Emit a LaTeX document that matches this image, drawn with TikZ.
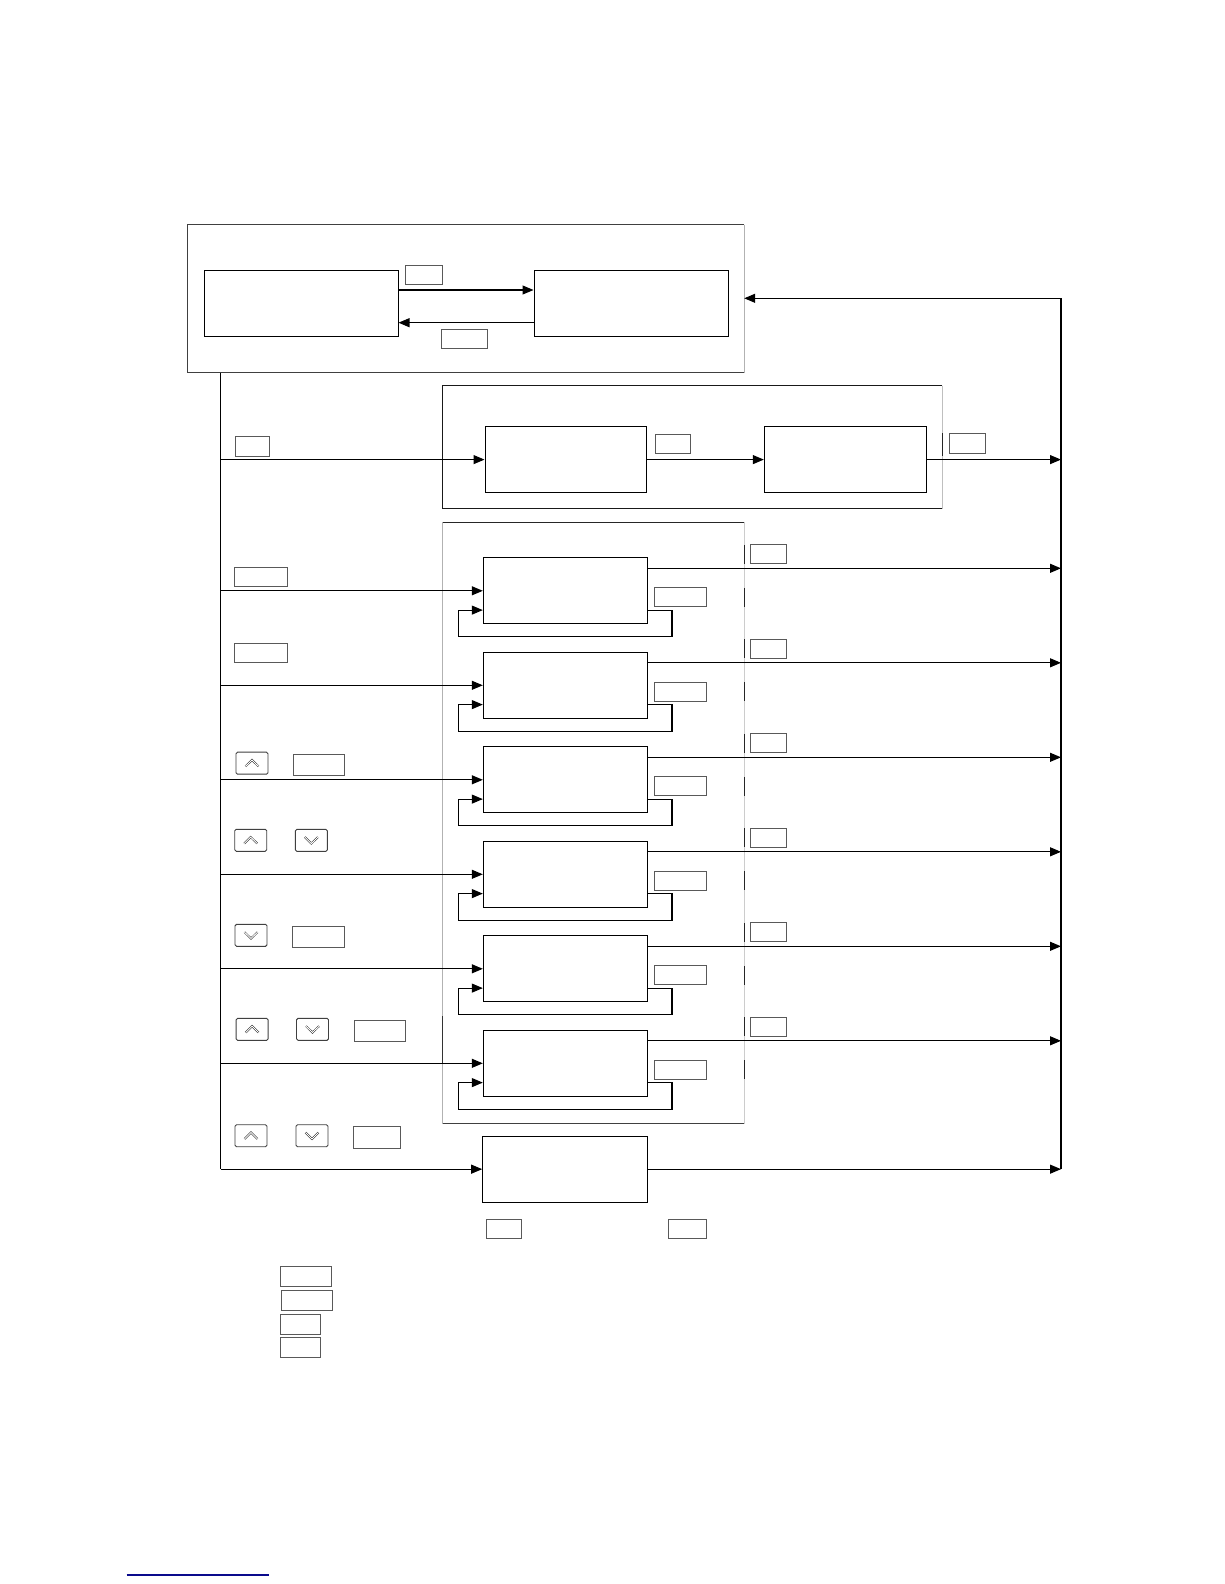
\documentclass[tikz,border=0pt]{standalone}
\usetikzlibrary{arrows.meta}
\begin{document}
\begin{tikzpicture}[x=1pt,y=-1pt,
  box/.style={draw=black, line width=1pt, inner sep=0pt},
  lbl/.style={draw=black!65, line width=1pt, inner sep=0pt, minimum width=35pt, minimum height=19pt},
  btn/.style={draw=black!75, line width=0.9pt, rounded corners=1.5pt, inner sep=0pt, minimum width=32pt, minimum height=22pt},
  ln/.style={line width=1.1pt, black},
  arr/.style={ln, -{Triangle[length=11pt,width=9pt]}},
  chev/.style={draw=black!85, double=white, double distance=0.9pt, line width=0.5pt, line join=miter},
]
\fill[white] (0,0) rectangle (1224,1584);
\useasboundingbox (0,0) rectangle (1224,1584);

% ---------- group A ----------
\node[inner sep=0pt, minimum width=556pt, minimum height=147.5pt] (a) at (466,298.75) {};
\draw[black!75, line width=1pt] (a.north east) -- (a.north west) -- (a.south west) -- (a.south east);
\draw[black!30, line width=1pt] (a.north east) -- (a.south east);
\node[box, minimum width=193.5pt, minimum height=65.6pt] (a1) at (301.25,303.5) {};
\node[box, minimum width=194.3pt, minimum height=65.6pt] (a2) at (631.15,303.5) {};
\draw[arr] (a1.east |- 0,290) -- (a2.west |- 0,290);
\draw[arr] (a2.west |- 0,322.7) -- (a1.east |- 0,322.7);
\node[lbl, minimum width=37pt] (la1) at (424,274.5) {};
\node[lbl, minimum width=46.6pt] (la2) at (464.3,338.5) {};

% ---------- buses ----------
\coordinate (bus) at (220.7,372.5);
\coordinate (rtop) at (1061,298.3);

% ---------- group B ----------
\node[inner sep=0pt, minimum width=499.9pt, minimum height=122.3pt] (bg) at (692.25,447.15) {};
\draw[black!90, line width=1pt] (bg.north east) -- (bg.north west) -- (bg.south west) -- (bg.south east);
\draw[black!25, line width=1pt] (bg.north east) -- (bg.south east);
\draw[black!85, line width=1pt] (bg.east |- 0,433) -- (bg.east |- 0,456);
\node[box, minimum width=161.3pt, minimum height=66.2pt] (b1) at (565.65,459.6) {};
\node[box, minimum width=161.7pt, minimum height=66.2pt] (b2) at (845.15,459.6) {};
\draw[arr] (bus |- b1.west) -- (b1.west);
\draw[arr] (b1.east) -- (b2.west);
\draw[arr] (b2.east) -- (rtop |- b2.east);
\node[lbl, minimum width=34.5pt, minimum height=20pt] (lb0) at (252.25,446.5) {};
\node[lbl] (lb1) at (673.1,443.5) {};
\node[lbl, minimum width=36pt, minimum height=20pt] (lb2) at (967.7,443.7) {};

% ---------- group C ----------
\node[inner sep=0pt, minimum width=301.7pt, minimum height=601pt] (cg) at (593.15,822.8) {};
\draw[black!85, line width=1pt] (cg.north west) -- (cg.north east);
\draw[black!75, line width=1pt] (cg.south west) -- (cg.south east);
\draw[black!30, line width=1pt] (cg.north west) -- (cg.south west);
\draw[black!20, line width=1pt] (cg.north east) -- (cg.south east);
\draw[black!80, line width=1pt] (cg.west |- 0,1016) -- (cg.west |- 0,1063);

\foreach \k in {0,...,5}{
  \pgfmathsetmacro\T{557.8+94.5*\k}
  \pgfmathsetmacro\Cy{\T+33}
  \pgfmathsetmacro\Fy{\T+52.3}
  \pgfmathsetmacro\By{\T+79}
  \pgfmathsetmacro\Oy{\T+10.5}
  \node[box, minimum width=163.7pt, minimum height=66pt] (c\k) at (565.15,\Cy) {};
  \draw[arr] (bus |- c\k.west) -- (c\k.west);
  \coordinate (fr\k) at (672,\Fy);
  \coordinate (br\k) at (672,\By);
  \coordinate (bl\k) at (458.7,\By);
  \coordinate (fl\k) at (458.7,\Fy);
  \draw[arr] (c\k.east |- fr\k) -- (fr\k) -- (br\k) -- (bl\k) -- (fl\k) -- (c\k.west |- fl\k);
  \coordinate (o\k) at (900,\Oy);
  \draw[arr] (c\k.east |- o\k) -- (rtop |- o\k);
  \node[lbl, minimum width=35.5pt] (ol\k) at (768.25,\T-3.5) {};
  \node[lbl, minimum width=51.5pt] (fb\k) at (680.25,\T+39.5) {};
  \draw[black!85, line width=1pt] (cg.east |- 0,\T-13) -- (cg.east |- 0,\T+6);
  \draw[black!85, line width=1pt] (cg.east |- 0,\T+30) -- (cg.east |- 0,\T+49);
}

% ---------- box D ----------
\node[box, minimum width=164.6pt, minimum height=66.3pt] (d) at (565,1169.15) {};
\draw[arr] (bus |- d.west) -- (d.west);
\draw[arr] (d.east) -- (rtop |- d.east);
\node[lbl, minimum width=34.3pt] (ld1) at (503.85,1228.5) {};
\node[lbl, minimum width=37.7pt] (ld2) at (687.15,1228.5) {};

% bus lines
\draw[ln] (bus) -- (bus |- d.west);
\draw[arr] (rtop |- d.east) -- (rtop) -- (a.east |- rtop);

% ---------- left labels and buttons ----------
\node[lbl, minimum width=52.3pt, minimum height=19.3pt] (l1) at (260.85,576.65) {};
\node[lbl, minimum width=52.3pt, minimum height=19.3pt] (l2) at (260.85,653.2) {};

\node[btn] (u3) at (252,763.15) {};
\node[lbl, minimum width=51pt, minimum height=21pt] (l3) at (318.8,764.5) {};

\node[btn] (u4) at (250.7,840.3) {};
\node[btn] (d4) at (311.35,840.3) {};

\node[btn] (d5) at (251,935.35) {};
\node[lbl, minimum width=52pt, minimum height=20.3pt] (l5) at (318,936.85) {};

\node[btn] (u6) at (252.15,1029.35) {};
\node[btn] (d6) at (312.5,1029.35) {};
\node[lbl, minimum width=51.4pt, minimum height=21.3pt] (l6) at (380,1030.65) {};

\node[btn] (u7) at (251,1135.7) {};
\node[btn] (d7) at (312,1135.7) {};
\node[lbl, minimum width=47.4pt, minimum height=22pt] (l7) at (377,1137) {};

\foreach \n in {u3,u4,u6,u7}{
  \draw[chev] (\n.center) ++(-6.5,3.2) -- ++(6.5,-6.4) -- ++(6.5,6.4);
}
\foreach \n in {d4,d5,d6,d7}{
  \draw[chev] (\n.center) ++(-6.5,-3.2) -- ++(6.5,6.4) -- ++(6.5,-6.4);
}

% ---------- legend ----------
\node[lbl, minimum width=51.4pt, minimum height=20.7pt] (g1) at (306,1276.35) {};
\node[lbl, minimum width=51.4pt, minimum height=20.7pt] (g2) at (307,1300.35) {};
\node[lbl, minimum width=40.4pt, minimum height=20.3pt] (g3) at (300.5,1324.15) {};
\node[lbl, minimum width=40.4pt, minimum height=20.3pt] (g4) at (300.5,1347.5) {};

% ---------- bottom link line ----------
\coordinate (ul1) at (126.7,1575);
\coordinate (ul2) at (269,1575);
\draw[line width=1.5pt, color={rgb,255:red,10;green,10;blue,140}] (ul1) -- (ul2);
\end{tikzpicture}
\end{document}
